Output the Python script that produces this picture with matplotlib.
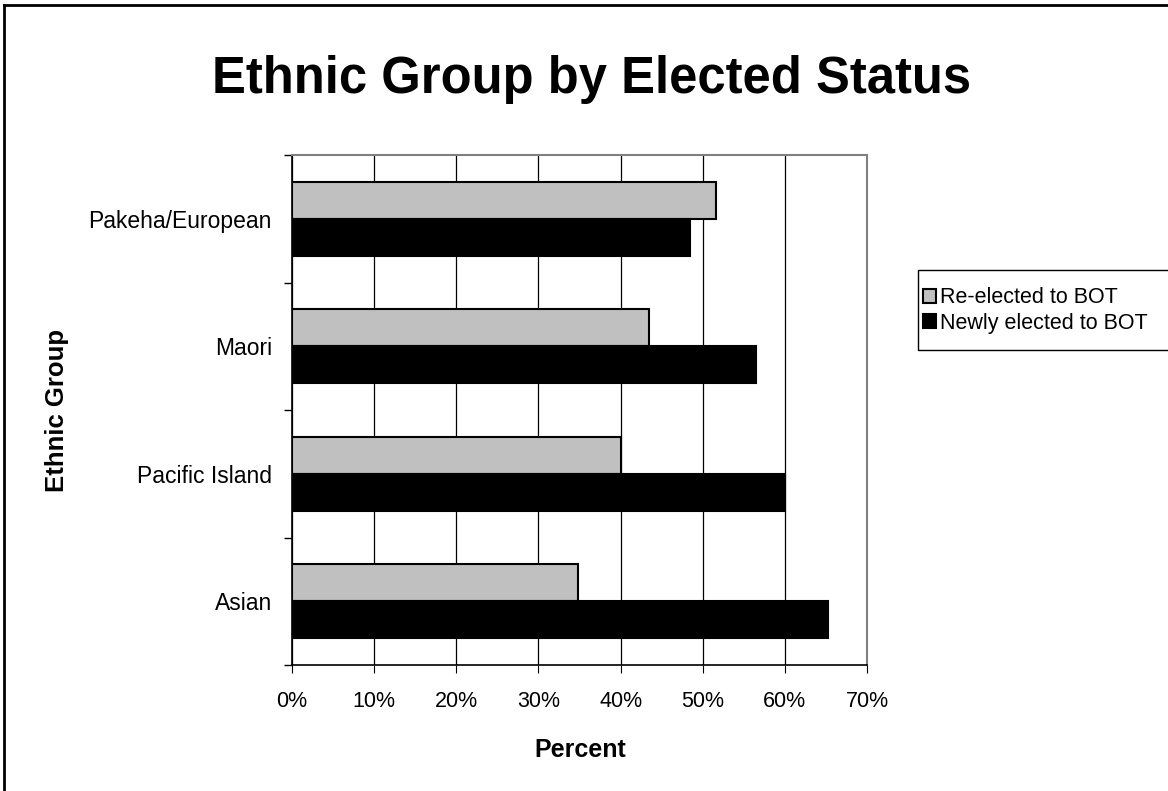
import matplotlib
matplotlib.use("Agg")
import matplotlib.pyplot as plt
from matplotlib.lines import Line2D
from matplotlib.patches import Rectangle
from matplotlib.ticker import FuncFormatter
import numpy as np

plt.rcParams['font.family'] = ['Liberation Sans', 'DejaVu Sans']

categories = ["Pakeha/European", "Maori", "Pacific Island", "Asian"]
re_elected = [51.6, 43.5, 40.0, 34.8]
newly_elected = [48.4, 56.5, 60.0, 65.2]
series_names = ["Re-elected to BOT", "Newly elected to BOT"]
x_ticks = [0, 10, 20, 30, 40, 50, 60, 70]

W, H = 1168, 791
fig = plt.figure(figsize=(W / 100, H / 100), dpi=100)
ax = fig.add_axes([292 / W, 1 - 665 / H, (867 - 292) / W, (665 - 155) / H])

n = len(categories)
pos = np.arange(n)[::-1]  # first category at the top
h = 0.29
ax.barh(pos + h / 2, re_elected, height=h, color="#C0C0C0", edgecolor="black",
        linewidth=1.5, label=series_names[0], zorder=3)
ax.barh(pos - h / 2, newly_elected, height=h, color="black", edgecolor="black",
        linewidth=1.5, label=series_names[1], zorder=3)

ax.set_xlim(0, 70)
ax.set_ylim(-0.5, n - 0.5)
ax.set_xticks(x_ticks)
ax.xaxis.set_major_formatter(FuncFormatter(lambda v, p: f"{int(v)}%"))
ax.grid(axis="x", color="black", linewidth=0.9, zorder=0)

# category labels at centres, tick marks at boundaries
ax.set_yticks(pos)
ax.set_yticklabels(categories)
ax.tick_params(axis="y", which="major", length=0, pad=14.5, labelsize=16.5)
ax.set_yticks(np.arange(-0.5, n, 1.0), minor=True)
ax.tick_params(axis="y", which="minor", length=6, width=1, direction="out")
ax.tick_params(axis="x", length=6, width=0.8, direction="out", pad=13, labelsize=15.5)

for s in ("top", "right"):
    ax.spines[s].set_color("#808080")
    ax.spines[s].set_linewidth(1.5)
for s in ("left", "bottom"):
    ax.spines[s].set_color("black")
    ax.spines[s].set_linewidth(1.2)

fig.text(580 / W, 1 - 750 / H, "Percent", ha="center", va="center",
         fontsize=18, fontweight="bold")
fig.text(57 / W, 1 - 410 / H, "Ethnic Group", rotation=90, ha="center",
         va="center", fontsize=18.5, fontweight="bold")

fig.text(592 / W, 1 - 93 / H, "Ethnic Group by Elected Status", ha="center",
         va="baseline", fontsize=36.5, fontweight="bold")

# legend entries, with a separate frame box that runs off the right edge
leg = fig.legend(loc="center left", bbox_to_anchor=(923 / W, 1 - 310.5 / H),
                 frameon=False, fontsize=15.5, handlelength=0.6,
                 handleheight=0.6, handletextpad=0.2, borderpad=0,
                 labelspacing=0.2, borderaxespad=0)
fig.add_artist(Rectangle((918 / W, 1 - 350 / H), (1180 - 918) / W, 80 / H,
                         transform=fig.transFigure, fill=False,
                         edgecolor="black", linewidth=1.0))

# outer frame of the chart area
fig.add_artist(Line2D([4 / W, 4 / W], [0, 1 - 5 / H], transform=fig.transFigure,
                      color="black", linewidth=2))
fig.add_artist(Line2D([4 / W, 1], [1 - 5 / H, 1 - 5 / H], transform=fig.transFigure,
                      color="black", linewidth=2))

fig.savefig("out.png", dpi=100)
